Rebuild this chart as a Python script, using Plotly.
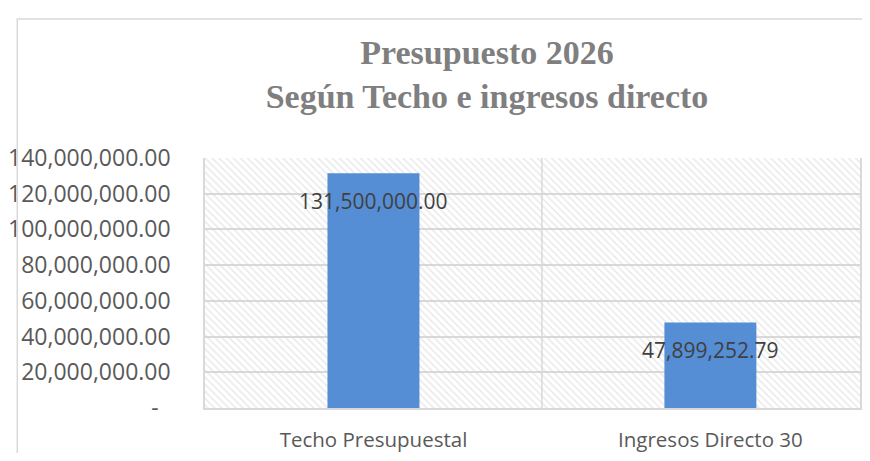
import plotly.graph_objects as go

categories = ["Techo Presupuestal", "Ingresos Directo 30"]
values = [131500000.00, 47899252.79]
y_tick_values = [0, 20000000, 40000000, 60000000, 80000000, 100000000, 120000000, 140000000]
y_tick_labels = ["-\u00a0\u00a0", "20,000,000.00", "40,000,000.00", "60,000,000.00",
                 "80,000,000.00", "100,000,000.00", "120,000,000.00", "140,000,000.00"]
title_lines = ["Presupuesto 2026", "Según Techo e ingresos directo"]

X_RANGE = [-0.5, 1.444]
Y_RANGE = [0, 140000000]
GRID = "#d9d9d9"
FONT = "Open Sans"

W, H = 854, 445
ML, MT, MB = 191, 150, 36
PW = W - ML
PH = H - MT - MB

xs = list(range(len(categories)))

fig = go.Figure()

# hatched plot-area background (style only)
fig.add_trace(go.Bar(
    x=[(X_RANGE[0] + X_RANGE[1]) / 2], y=[Y_RANGE[1]], width=[X_RANGE[1] - X_RANGE[0]],
    marker=dict(color="rgba(0,0,0,0)", line=dict(width=0),
                pattern=dict(shape="\\", fgcolor="#d4d4d4", bgcolor="rgba(0,0,0,0)",
                             size=5, solidity=0.3, fillmode="overlay")),
    hoverinfo="skip", showlegend=False,
))

fig.add_trace(go.Bar(
    x=xs, y=values, width=0.273,
    marker=dict(color="#558ed5", line=dict(width=0)),
    showlegend=False, hoverinfo="skip",
))

for xi, v in zip(xs, values):
    fig.add_annotation(x=xi, y=v, text=f"{v:,.2f}", showarrow=False,
                       yanchor="middle", yshift=-28,
                       font=dict(family=FONT, size=21, color="#404040"))

fig.add_shape(type="line", xref="x", yref="y", x0=0.5, x1=0.5, y0=Y_RANGE[0], y1=Y_RANGE[1],
              line=dict(color=GRID, width=1.5), layer="below")

# outer chart border (left and top edges visible)
fig.add_shape(type="rect", xref="paper", yref="paper",
              x0=(1 - ML) / PW, x1=1.2, y0=-0.3, y1=(H - MB - 6) / PH,
              line=dict(color=GRID, width=1.5), fillcolor="rgba(0,0,0,0)", layer="above")

fig.update_layout(
    width=W, height=H,
    margin=dict(l=ML, r=0, t=MT, b=MB, pad=0),
    paper_bgcolor="white", plot_bgcolor="white",
    barmode="overlay",
    title=dict(text="<br>".join(title_lines), x=(487 - 8) / W, xanchor="center",
               y=1 - 56 / H, yanchor="middle",
               font=dict(family="Liberation Serif", size=34, color="#7f7f7f", weight="bold")),
    xaxis=dict(range=X_RANGE, tickvals=xs, ticktext=categories, showgrid=False,
               zeroline=False, showline=True, linecolor=GRID, linewidth=1.5,
               ticks="outside", ticklen=13, tickcolor="rgba(0,0,0,0)",
               tickfont=dict(family=FONT, size=20.5, color="#595959")),
    yaxis=dict(range=Y_RANGE, tickvals=y_tick_values, ticktext=y_tick_labels,
               showgrid=True, gridcolor=GRID, gridwidth=1.5, zeroline=False,
               showline=True, linecolor=GRID, linewidth=1.5, mirror=True,
               ticks="", ticklabelstandoff=28,
               tickfont=dict(family=FONT, size=23, color="#595959")),
)

fig.write_html("out.html")
